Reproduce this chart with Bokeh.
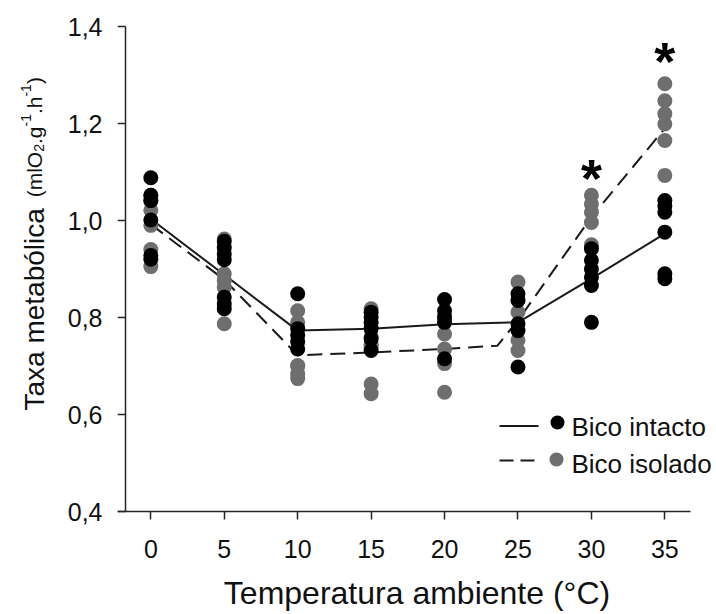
from math import pi
from bokeh.plotting import figure
from bokeh.layouts import row
from bokeh.models import Range1d, FixedTicker, CustomJSTickFormatter
from bokeh.core.properties import value
from bokeh.embed import file_html
from bokeh.resources import INLINE

# ---------------- data ----------------
temps = [0, 5, 10, 15, 20, 25, 30, 35]

intacto_0 = [1.088, 1.052, 1.041, 1.001, 0.928, 0.920]
intacto_5 = [0.957, 0.944, 0.931, 0.919, 0.842, 0.828, 0.818]
intacto_10 = [0.849, 0.777, 0.763, 0.750, 0.735]
intacto_15 = [0.811, 0.801, 0.790, 0.777, 0.756, 0.732]
intacto_20 = [0.837, 0.814, 0.801, 0.790, 0.715]
intacto_25 = [0.849, 0.835, 0.787, 0.773, 0.698]
intacto_30 = [0.942, 0.918, 0.900, 0.883, 0.866, 0.790]
intacto_35 = [1.041, 1.030, 1.017, 0.976, 0.890, 0.880]

isolado_0 = [1.052, 1.040, 1.021, 0.990, 0.940, 0.905]
isolado_5 = [0.962, 0.890, 0.876, 0.862, 0.787]
isolado_10 = [0.814, 0.790, 0.701, 0.700, 0.684, 0.674]
isolado_15 = [0.818, 0.760, 0.745, 0.740, 0.663, 0.643]
isolado_20 = [0.800, 0.790, 0.766, 0.735, 0.705, 0.646]
isolado_25 = [0.873, 0.811, 0.753, 0.732]
isolado_30 = [1.052, 1.034, 1.017, 0.996, 0.950]
isolado_35 = [1.282, 1.247, 1.220, 1.199, 1.165, 1.093]

intacto_groups = [intacto_0, intacto_5, intacto_10, intacto_15,
                  intacto_20, intacto_25, intacto_30, intacto_35]
isolado_groups = [isolado_0, isolado_5, isolado_10, isolado_15,
                  isolado_20, isolado_25, isolado_30, isolado_35]

intacto_mean_x = [0, 5, 10, 15, 20, 25, 30, 35]
intacto_mean = [1.003, 0.888, 0.773, 0.777, 0.786, 0.790, 0.880, 0.973]
isolado_mean_x = [0, 5, 10, 15, 20, 23.6, 25, 30, 35]
isolado_mean = [0.992, 0.878, 0.722, 0.728, 0.735, 0.742, 0.794, 1.007, 1.190]

sig_x = [30, 35]
sig_y = [1.087, 1.328]

y_ticks = [0.4, 0.6, 0.8, 1.0, 1.2, 1.4]
x_ticks = temps

legend_labels = ["Bico intacto", "Bico isolado"]
x_title = "Temperatura ambiente (°C)"
y_title_pieces = ["Taxa metabólica", "(mlO", "2", ".g", "-1", ".h", "-1", ")"]

# ---------------- layout helpers ----------------
PXX = 14.686                # px per degree
PXY = 485.0                 # px per unit
FL = 117                    # page x of frame left
FT, FBOT = 24, 513          # page y of frame top / bottom
X0 = -2.27
X1 = X0 + (716 - FL) / PXX
Y0 = 0.4 - (FBOT - 511) / PXY
Y1 = 0.4 + (511 - FT) / PXY
BOTTOM = 140                # generous bottom border so both figures share one height
H = FBOT + BOTTOM           # total height of each figure


def sx2d(sx):
    return X0 + (sx - FL) / PXX


def sy2d(sy):
    return 0.4 + (511 - sy) / PXY


FONT = "Liberation Sans"
BLACK = "#000000"
GRAY = "#6e6e6e"
LINEC = "#1a1a1a"
AXC = "#262626"
TXT = "#111111"

LW = 60   # width of the y-title strip

p = figure(frame_width=716 - FL, frame_height=FBOT - FT,
           x_range=Range1d(X0, X1), y_range=Range1d(Y0, Y1),
           output_backend="svg", toolbar_location=None,
           min_border_left=FL - LW, min_border_right=0, min_border_top=FT,
           min_border_bottom=BOTTOM, align="start")
p.outline_line_color = None
p.grid.visible = False
p.background_fill_color = "white"
p.border_fill_color = "white"

# x axis (ticks + labels from Bokeh, line drawn below)
xa = p.xaxis[0]
xa.ticker = FixedTicker(ticks=x_ticks)
xa.axis_line_color = None
xa.major_tick_line_color = AXC
xa.major_tick_line_width = 1.5
xa.major_tick_out = 6
xa.major_tick_in = 2
xa.minor_tick_line_color = None
xa.major_label_text_font = FONT
xa.major_label_text_font_size = "25px"
xa.major_label_text_color = TXT
xa.major_label_standoff = 20
xa.axis_label = x_title
xa.axis_label_text_font = FONT
xa.axis_label_text_font_size = "32px"
xa.axis_label_text_font_style = "normal"
xa.axis_label_text_color = TXT
xa.axis_label_standoff = 14

# y axis (labels only; line and ticks drawn below)
ya = p.yaxis[0]
ya.ticker = FixedTicker(ticks=y_ticks)
ya.formatter = CustomJSTickFormatter(code="return tick.toFixed(1).replace('.', ',');")
ya.axis_line_color = None
ya.major_tick_line_color = None
ya.minor_tick_line_color = None
ya.major_tick_out = 0
ya.major_tick_in = 0
ya.major_label_standoff = 15
ya.major_label_text_font = FONT
ya.major_label_text_font_size = "25px"
ya.major_label_text_color = TXT

yax = sx2d(125)
p.segment(x0=[X0], y0=[0.4], x1=[sx2d(690)], y1=[0.4], line_color=AXC, line_width=1.5)
p.segment(x0=[yax], y0=[y_ticks[0]], x1=[yax], y1=[y_ticks[-1]],
          line_color=AXC, line_width=1.5)
p.segment(x0=[X0] * len(y_ticks), y0=y_ticks, x1=[yax] * len(y_ticks), y1=y_ticks,
          line_color=AXC, line_width=1.5)

# mean lines
p.line(intacto_mean_x, intacto_mean, line_color=LINEC, line_width=2)
p.line(isolado_mean_x, isolado_mean, line_color=LINEC, line_width=2, line_dash="15 8")

# points
for t, g in zip(temps, isolado_groups):
    p.scatter([t] * len(g), g, size=15, fill_color=GRAY, line_color=None)
for t, g in zip(temps, intacto_groups):
    p.scatter([t] * len(g), g, size=15, fill_color=BLACK, line_color=None)

# significance marks
p.text(sig_x, sig_y, text=["*"] * len(sig_x), text_font=value(FONT),
       text_font_size="54px", text_font_style="bold", text_align="center",
       text_baseline="alphabetic", text_color=BLACK)

# legend
p.segment(x0=[sx2d(499)], y0=[sy2d(425.5)], x1=[sx2d(538)], y1=[sy2d(425.5)],
          line_color=LINEC, line_width=2)
p.segment(x0=[sx2d(499)], y0=[sy2d(460)], x1=[sx2d(538)], y1=[sy2d(460)],
          line_color=LINEC, line_width=2, line_dash="14 7")
p.scatter([sx2d(557)], [sy2d(422)], size=14, fill_color=BLACK, line_color=None)
p.scatter([sx2d(556)], [sy2d(459)], size=14, fill_color=GRAY, line_color=None)
p.text([sx2d(571)] * 2, [sy2d(426), sy2d(463)], text=legend_labels,
       text_font=value(FONT), text_font_size="26px", text_align="left",
       text_baseline="middle", text_color=TXT)

# ---------------- y title strip (mixed sizes, sub/superscripts) ----------------
q = figure(frame_width=LW, frame_height=H, x_range=Range1d(0, LW), y_range=Range1d(0, H),
           output_backend="svg", toolbar_location=None, x_axis_type=None,
           y_axis_type=None, min_border=0, title=None, align="start")
q.outline_line_color = None
q.grid.visible = False
q.background_fill_color = "white"
q.border_fill_color = "white"

W = {"T": .611, "a": .556, "x": .5, " ": .278, "m": .833, "e": .556, "t": .278,
     "b": .556, "ó": .556, "l": .222, "i": .222, "c": .5, "(": .333, "O": .778,
     "2": .556, ".": .278, "g": .556, "-": .333, "1": .556, "h": .556, ")": .333}
sizes = [28, 21, 14, 21, 14, 21, 14, 21]
shifts = [0, 0, -4, 0, 9, 0, 9, 0]
gaps = [.278 * 28, 0, 0, 0, 0, 0, 0, 0]
sy = 386.0
base_sx = 34.0
for txt, fs, shift, extra in zip(y_title_pieces, sizes, shifts, gaps):
    q.text([base_sx - shift], [H - sy], text=[txt], angle=pi / 2,
           text_font=value(FONT), text_font_size=f"{fs}px", text_align="left",
           text_baseline="alphabetic", text_color=TXT)
    sy -= sum(W[c] for c in txt) * fs + extra

layout = row(q, p)
open("out.html", "w").write(file_html(layout, INLINE))
